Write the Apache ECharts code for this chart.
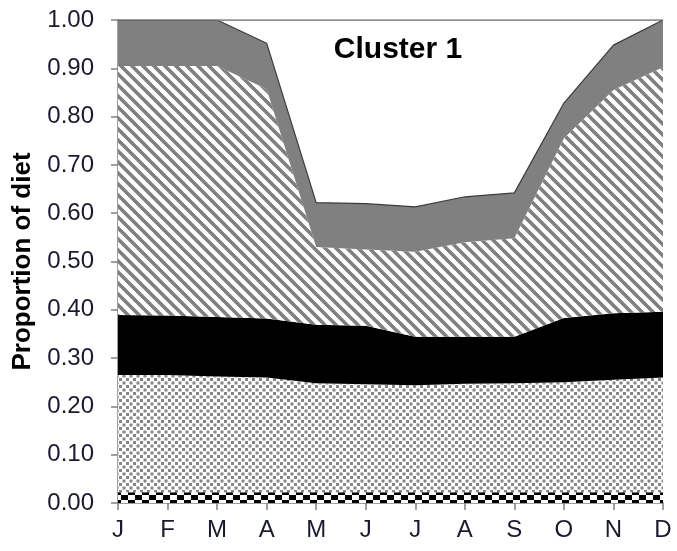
<!DOCTYPE html>
<html>
<head>
<meta charset="utf-8">
<script src="https://cdn.jsdelivr.net/npm/echarts@6/dist/echarts.min.js"></script>
<style>
html,body{margin:0;padding:0;background:#fff;}
#chart{width:677px;height:551px;}
</style>
</head>
<body>
<div id="chart"></div>
<script>
// ---- data ----
var months = ['J','F','M','A','M','J','J','A','S','O','N','D'];
var yTicks = [0,0.1,0.2,0.3,0.4,0.5,0.6,0.7,0.8,0.9,1.0];
var titleText = 'Cluster 1';
var yName = 'Proportion of diet';
// proportions (stacked bottom to top)
var checkered = [0.022,0.022,0.022,0.022,0.022,0.022,0.022,0.022,0.022,0.022,0.022,0.022];
var dotted    = [0.243,0.243,0.240,0.238,0.226,0.224,0.222,0.225,0.226,0.228,0.233,0.238];
var black     = [0.124,0.123,0.123,0.122,0.121,0.121,0.100,0.097,0.096,0.133,0.138,0.136];
var hatched   = [0.516,0.517,0.520,0.475,0.161,0.158,0.176,0.196,0.204,0.372,0.462,0.506];
var grey      = [0.095,0.095,0.095,0.095,0.092,0.095,0.093,0.094,0.094,0.073,0.093,0.098];
var remainder = [0.000,0.000,0.000,0.048,0.378,0.380,0.387,0.366,0.358,0.172,0.052,0.000];

// ---- patterns ----
function makeCanvas(w,h,draw){
  var c=document.createElement('canvas'); c.width=w; c.height=h;
  var ctx=c.getContext('2d'); ctx.fillStyle='#fff'; ctx.fillRect(0,0,w,h);
  draw(ctx); return c;
}
var hatchCanvas = makeCanvas(11,11,function(ctx){
  ctx.strokeStyle='#7f7f7f'; ctx.lineWidth=3.6;
  ctx.beginPath();
  ctx.moveTo(-5,-5); ctx.lineTo(16,16);
  ctx.moveTo(-16,-5); ctx.lineTo(5,16);
  ctx.moveTo(6,-5); ctx.lineTo(27,16);
  ctx.stroke();
});
var dotCanvas = makeCanvas(7,7,function(ctx){
  ctx.fillStyle='#858585';
  ctx.fillRect(0,0,3,3); ctx.fillRect(3.5,3.5,3,3);
});
var checkCanvas = makeCanvas(14,10,function(ctx){
  ctx.fillStyle='#000';
  ctx.fillRect(2,0,7,5); ctx.fillRect(9,5,7,5); ctx.fillRect(-5,5,7,5);
});

function areaSeries(name,data,fill,line){
  return {
    name:name, type:'line', stack:'diet', data:data,
    showSymbol:false, symbol:'none', smooth:false,
    lineStyle: line || {width:0, opacity:0},
    areaStyle:{color:fill, opacity:1},
    emphasis:{disabled:true}, silent:true
  };
}

var chart = echarts.init(document.getElementById('chart'), null, {renderer:'canvas'});
chart.setOption({
  animation:false,
  backgroundColor:'#fff',
  title:{text:titleText, left:393, top:30, textAlign:'center',
    textStyle:{fontFamily:'Liberation Sans, Arial', fontWeight:'bold', fontSize:30, color:'#000'}},
  grid:{left:118, right:14, top:20, bottom:48},
  xAxis:{
    type:'category', data:months, boundaryGap:false,
    axisLine:{lineStyle:{color:'#808080', width:1.5}},
    axisTick:{show:true, length:7, inside:false, lineStyle:{color:'#808080', width:1.5}},
    axisLabel:{color:'#1a1a2e', fontFamily:'Liberation Sans, Arial', fontSize:24, margin:15},
    splitLine:{show:false}
  },
  yAxis:{
    type:'value', min:0, max:1, interval:0.1,
    name:yName, nameLocation:'middle', nameGap:82, nameRotate:90,
    nameTextStyle:{fontFamily:'Liberation Sans, Arial', fontWeight:'bold', fontSize:26, color:'#000'},
    axisLine:{show:true, lineStyle:{color:'#808080', width:1.5}},
    axisTick:{show:true, length:7, lineStyle:{color:'#808080', width:1.5}},
    axisLabel:{color:'#1a1a2e', fontFamily:'Liberation Sans, Arial', fontSize:24, margin:24,
      formatter:function(v){return v.toFixed(2);}},
    splitLine:{show:false}
  },
  series:[
    areaSeries('checkered',checkered,{image:checkCanvas, repeat:'repeat'}),
    areaSeries('dotted',dotted,{image:dotCanvas, repeat:'repeat'}),
    areaSeries('black',black,'#000'),
    areaSeries('hatched',hatched,{image:hatchCanvas, repeat:'repeat'}),
    areaSeries('grey',grey,'#808080',{width:1.2, color:'#3a3a3a'}),
    areaSeries('remainder',remainder,'#ffffff',{width:1.5, color:'#707070'})
  ]
});
</script>
</body>
</html>
